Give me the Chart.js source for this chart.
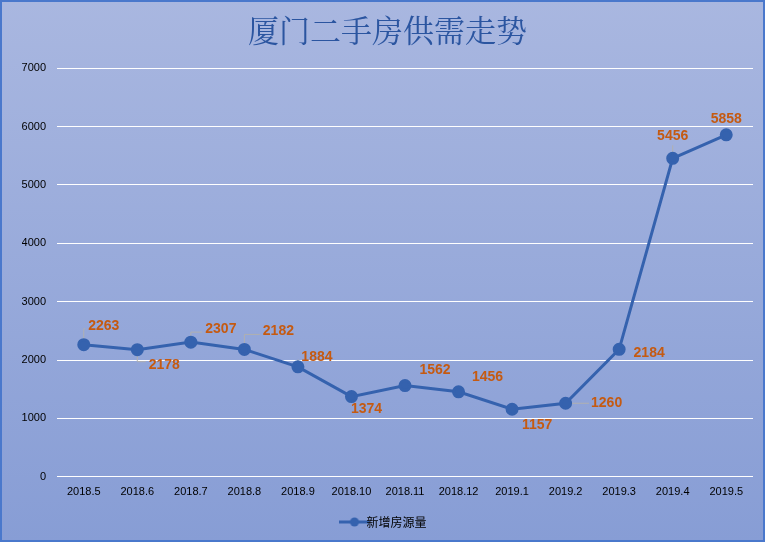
<!DOCTYPE html>
<html>
<head>
<meta charset="utf-8">
<script src="https://cdn.jsdelivr.net/npm/chart.js@4"></script>
<style>
  html, body { margin: 0; padding: 0; }
  #wrap { width: 765px; height: 542px; }
</style>
</head>
<body>
<div id="wrap"><canvas id="supplyChart" width="765" height="542"></canvas></div>
<script>
const months = ["2018.5", "2018.6", "2018.7", "2018.8", "2018.9", "2018.10", "2018.11", "2018.12", "2019.1", "2019.2", "2019.3", "2019.4", "2019.5"];
const newListings = [2263, 2178, 2307, 2182, 1884, 1374, 1562, 1456, 1157, 1260, 2184, 5456, 5858];
const yTicks = [0, 1000, 2000, 3000, 4000, 5000, 6000, 7000];

// label offsets from each point (dx, dy) and whether a leader line is drawn
const labelPos = [
    [20, -19, true], [27, 15, true], [30, -13, true], [34, -18, true], [19, -10, true],
    [15, 13, false], [30, -15, false], [29, -15, false], [25, 16, false], [41, 0, true],
    [30, 4, false], [0, -22, true], [0, -16, false],
];

const background = {
    id: "background",
    beforeDraw(chart) {
        const { ctx, width, height } = chart;
        const g = ctx.createLinearGradient(0, 0, 0, height);
        g.addColorStop(0, "#a9b7e0");
        g.addColorStop(1, "#879dd5");
        ctx.save();
        ctx.fillStyle = g;
        ctx.fillRect(0, 0, width, height);
        ctx.strokeStyle = "#4a78cc";
        ctx.lineWidth = 2;
        ctx.strokeRect(1, 1, width - 2, height - 2);
        ctx.restore();
    },
};

const leaderLines = {
    id: "leaderLines",
    beforeDatasetsDraw(chart) {
        const ctx = chart.ctx;
        const meta = chart.getDatasetMeta(0);
        ctx.save();
        ctx.font = "bold 14px 'Liberation Sans', Arial, sans-serif";
        ctx.strokeStyle = "#b0b0b0";
        ctx.lineWidth = 1;
        meta.data.forEach(function (pt, i) {
            const [dx, dy, leader] = labelPos[i];
            if (!leader) return;
            const w = ctx.measureText(String(newListings[i])).width;
            const tx = pt.x + dx;
            const ty = pt.y + dy;
            ctx.beginPath();
            ctx.moveTo(pt.x, pt.y);
            if (dx === 0) {
                ctx.lineTo(pt.x, ty + 9);
            } else if (dy === 0) {
                ctx.lineTo(tx - w / 2 - 2, pt.y);
            } else {
                const ey = dy < 0 ? ty + 3 : ty - 3;
                ctx.lineTo(pt.x, ey);
                ctx.lineTo(tx - w / 2 - 3, ey);
            }
            ctx.stroke();
        });
        ctx.restore();
    },
};

const dataLabels = {
    id: "dataLabels",
    afterDatasetsDraw(chart) {
        const ctx = chart.ctx;
        const meta = chart.getDatasetMeta(0);
        ctx.save();
        ctx.font = "bold 14px 'Liberation Sans', Arial, sans-serif";
        ctx.textAlign = "center";
        ctx.textBaseline = "middle";
        ctx.fillStyle = "#c55a11";
        meta.data.forEach(function (pt, i) {
            const [dx, dy] = labelPos[i];
            ctx.fillText(String(newListings[i]), pt.x + dx, pt.y + dy);
        });
        ctx.restore();
    },
};

// small line + dot marker for the legend
const legendMark = document.createElement("canvas");
legendMark.width = 30;
legendMark.height = 10;
(function () {
    const c = legendMark.getContext("2d");
    c.strokeStyle = "#3562ae";
    c.lineWidth = 3;
    c.beginPath();
    c.moveTo(0, 5);
    c.lineTo(30, 5);
    c.stroke();
    c.fillStyle = "#3562ae";
    c.beginPath();
    c.arc(15, 5, 4.5, 0, Math.PI * 2);
    c.fill();
})();

new Chart(document.getElementById("supplyChart"), {
    type: "line",
    data: {
        labels: months,
        datasets: [
            {
                label: "新增房源量",
                data: newListings,
                borderColor: "#3562ae",
                backgroundColor: "#3562ae",
                borderWidth: 3,
                pointRadius: 5,
                pointBackgroundColor: "#3562ae",
                tension: 0,
                fill: false,
            },
        ],
    },
    options: {
        responsive: false,
        animation: false,
        layout: { padding: { left: 22, right: 12, top: 4, bottom: 4 } },
        plugins: {
            title: {
                display: true,
                text: "厦门二手房供需走势",
                color: "#2b55a0",
                font: { size: 31, family: "'Noto Serif CJK SC', 'Noto Sans CJK SC', serif", weight: "normal" },
                padding: { top: 8, bottom: 19 },
            },
            legend: {
                position: "bottom",
                labels: {
                    usePointStyle: true,
                    color: "#000",
                    font: { size: 12, family: "'Noto Sans CJK SC', sans-serif" },
                    padding: 16,
                    generateLabels: function (chart) {
                        return Chart.defaults.plugins.legend.labels.generateLabels(chart).map(function (l) {
                            l.pointStyle = legendMark;
                            return l;
                        });
                    },
                },
            },
            tooltip: { enabled: false },
        },
        scales: {
            x: {
                offset: true,
                grid: { display: false },
                border: { display: false },
                ticks: { color: "#000", font: { size: 11 }, padding: 1, maxRotation: 0, autoSkip: false },
            },
            y: {
                min: 0,
                max: 7000,
                afterBuildTicks: function (axis) {
                    axis.ticks = yTicks.map(function (v) { return { value: v }; });
                },
                afterFit: function (axis) {
                    axis.width = 35;
                },
                grid: { color: "#ffffff", lineWidth: 1, drawTicks: false },
                border: { display: false },
                ticks: {
                    color: "#000",
                    font: { size: 11 },
                    padding: 11,
                    callback: function (v) { return String(v); },
                },
            },
        },
    },
    plugins: [background, leaderLines, dataLabels],
});
</script>
</body>
</html>
